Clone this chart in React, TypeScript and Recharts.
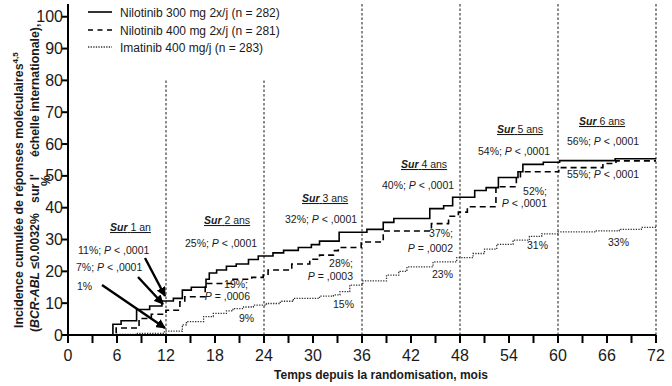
import React from 'react';
import { ComposedChart, Line, XAxis, YAxis, ReferenceLine } from 'recharts';

// Nilotinib 300 mg 2x/j (solid)
const nil300Months = [0, 5.5, 6.5, 8.4, 10, 11.5, 12.9, 14, 15.1, 16.9, 17.3, 18.2, 19.4, 20.6, 22.1, 23.3, 25.1, 26.4, 28.2, 29.8, 30.8, 33.2, 36.6, 38.6, 39.9, 44.3, 46.0, 47.1, 49.8, 51.2, 52.7, 55.1, 55.7, 58.2, 60.2, 67.0, 72];
const nil300Values = [0, 3.4, 4.5, 8.0, 9.1, 10.7, 11.5, 14.1, 15.0, 17.5, 19.5, 20.4, 21.6, 22.3, 23.7, 24.8, 25.8, 26.6, 27.5, 28.4, 29.5, 32.3, 33.2, 35.4, 36.6, 39.7, 40.6, 43.3, 45.4, 46.3, 49.5, 51.3, 53.6, 54.3, 54.8, 55.4, 55.4];

// Nilotinib 400 mg 2x/j (dashed)
const nil400Months = [0, 5.9, 8.7, 10.2, 12.0, 13.7, 14.3, 16.8, 20.2, 22.5, 23.9, 24.5, 27.4, 29.6, 30.8, 32.5, 33.1, 35.9, 38.6, 44.5, 46.6, 47.8, 48.9, 52.4, 54.9, 55.4, 60.1, 65.5, 67.1, 72];
const nil400Values = [0, 2.2, 5.2, 6.5, 7.8, 10.4, 12.0, 16.2, 17.5, 18.1, 18.8, 20.4, 22.3, 23.8, 25.1, 26.5, 27.5, 29.2, 32.7, 35.0, 37.3, 38.6, 40.3, 46.6, 49.3, 51.3, 52.6, 53.9, 54.7, 54.7];

// Imatinib 400 mg/j (dotted)
const imaMonths = [0, 6.0, 8.5, 11.8, 14.0, 14.5, 16.6, 17.8, 19.4, 20.2, 21.5, 22.7, 24.3, 26.0, 27.6, 30.8, 32.5, 33.3, 34.5, 36.1, 39.0, 40.5, 41.5, 44.7, 47.6, 49.6, 51.0, 52.5, 54.5, 56.5, 58.0, 60.0, 64.7, 67.5, 70.2, 72];
const imaValues = [0, 0.2, 0.5, 1.2, 3.2, 4.2, 5.8, 6.8, 7.6, 8.3, 8.8, 9.4, 9.9, 10.6, 11.5, 12.2, 12.6, 13.6, 15.7, 17.0, 18.8, 20.0, 21.4, 23.0, 24.3, 25.6, 27.0, 28.5, 29.8, 31.0, 31.8, 32.4, 32.7, 33.2, 33.8, 34.0];

const xTicks = [0, 3, 6, 9, 12, 15, 18, 21, 24, 27, 30, 33, 36, 39, 42, 45, 48, 51, 54, 57, 60, 63, 66, 69, 72];
const yTicks = [0, 10, 20, 30, 40, 50, 60, 70, 80, 90, 100];
const shortCutoffs = [12, 24];
const tallCutoffs = [36, 48, 60, 72];

const legendLabels = [
  'Nilotinib 300 mg 2x/j (n = 282)',
  'Nilotinib 400 mg 2x/j (n = 281)',
  'Imatinib 400 mg/j (n = 283)',
];

const zip = (ms: number[], vs: number[]) => ms.map((m, i) => ({ m, v: vs[i] }));
const nil300 = zip(nil300Months, nil300Values);
const nil400 = zip(nil400Months, nil400Values);
const ima = zip(imaMonths, imaValues);

const FONT = '"Liberation Sans", Arial, sans-serif';
const INK = '#1a1a1a';

const XTick = (props: any) => {
  const { x, y, payload } = props;
  if (payload.value % 6 !== 0) return <g />;
  return (
    <text x={x} y={y} dy={16} textAnchor="middle" fontSize={16} fontFamily={FONT} fill={INK}>
      {payload.value}
    </text>
  );
};

const YTick = (props: any) => {
  const { x, y, payload } = props;
  return (
    <text x={x + 3} y={y} dy={5.5} textAnchor="end" fontSize={16} fontFamily={FONT} fill={INK}>
      {payload.value}
    </text>
  );
};

const Sur = ({ x, y, n }: { x: number; y: number; n: string }) => (
  <text x={x} y={y} fontSize={10.5} fontFamily={FONT} fill={INK} style={{ textDecoration: 'underline' }}>
    <tspan fontWeight="bold" fontStyle="italic">Sur</tspan>
    <tspan> {n}</tspan>
  </text>
);

const PText = ({ x, y, pre, post, anchor = 'start' }: { x: number; y: number; pre: string; post: string; anchor?: string }) => (
  <text x={x} y={y} fontSize={10.5} fontFamily={FONT} fill={INK} textAnchor={anchor}>
    {pre}
    <tspan fontStyle="italic">P</tspan>
    {post}
  </text>
);

const Plain = ({ x, y, t, anchor = 'start' }: { x: number; y: number; t: string; anchor?: string }) => (
  <text x={x} y={y} fontSize={10.5} fontFamily={FONT} fill={INK} textAnchor={anchor}>
    {t}
  </text>
);

export default function App() {
  return (
    <div style={{ position: 'absolute', left: 0, top: 0, width: 672, height: 386, background: '#fff' }}>
      <ComposedChart width={672} height={386} margin={{ top: 4, right: 16, bottom: 21, left: 28 }}>
        <XAxis
          dataKey="m"
          type="number"
          domain={[0, 72]}
          ticks={xTicks}
          interval={0}
          height={30}
          axisLine={{ stroke: '#000', strokeWidth: 2 }}
          tickLine={{ stroke: '#000', strokeWidth: 2 }}
          tickSize={8}
          tick={<XTick />}
        />
        <YAxis
          type="number"
          domain={[0, 104]}
          ticks={yTicks}
          interval={0}
          width={40}
          axisLine={{ stroke: '#000', strokeWidth: 2 }}
          tickLine={{ stroke: '#000', strokeWidth: 2 }}
          tickSize={6}
          tick={<YTick />}
        />
        {shortCutoffs.map((c) => (
          <ReferenceLine key={c} segment={[{ x: c, y: 0 }, { x: c, y: 80 }]} stroke="#666" strokeWidth={1.5} strokeDasharray="2.5 2" />
        ))}
        {tallCutoffs.map((c) => (
          <ReferenceLine key={c} segment={[{ x: c, y: 0 }, { x: c, y: 104 }]} stroke="#666" strokeWidth={1.5} strokeDasharray="2.5 2" />
        ))}
        <Line data={ima} dataKey="v" type="stepAfter" stroke="#333" strokeWidth={1.3} strokeDasharray="1.3 1.3" dot={false} isAnimationActive={false} />
        <Line data={nil400} dataKey="v" type="stepAfter" stroke="#000" strokeWidth={1.6} strokeDasharray="6 4" dot={false} isAnimationActive={false} />
        <Line data={nil300} dataKey="v" type="stepAfter" stroke="#000" strokeWidth={1.6} dot={false} isAnimationActive={false} />
      </ComposedChart>

      <svg width={672} height={386} style={{ position: 'absolute', left: 0, top: 0, pointerEvents: 'none' }}>
        <defs>
          <marker id="arrowHead" viewBox="0 0 10 10" refX="9" refY="5" markerWidth="4" markerHeight="4" orient="auto">
            <path d="M0,0 L10,5 L0,10 z" fill="#000" />
          </marker>
        </defs>

        {/* legend */}
        <line x1={88} y1={12} x2={112} y2={12} stroke="#000" strokeWidth={1.6} />
        <line x1={88} y1={30} x2={112} y2={30} stroke="#000" strokeWidth={1.6} strokeDasharray="5 4.5" />
        <line x1={88} y1={47} x2={112} y2={47} stroke="#333" strokeWidth={1.3} strokeDasharray="1.3 1.3" />
        {legendLabels.map((l, i) => (
          <text key={l} x={120} y={16.5 + [0, 18, 35][i]} fontSize={12} fontFamily={FONT} fill={INK}>
            {l}
          </text>
        ))}

        {/* y axis title */}
        <text transform="translate(23,328) rotate(-90)" fontSize={12.3} fontWeight="bold" fontFamily={FONT} fill={INK}>
          Incidence cumulée de réponses moléculaires
          <tspan fontSize={8} dy={-5}>4,5</tspan>
        </text>
        <text transform="translate(39,332) rotate(-90)" fontSize={12.3} fontWeight="bold" fontFamily={FONT} fill={INK} style={{ whiteSpace: 'pre' }}>
          (<tspan fontStyle="italic">BCR-ABL</tspan> ≤0.0032%   sur l'     échelle internationale),
        </text>
        <text transform="translate(50,186) rotate(-90)" fontSize={12.3} fontWeight="bold" fontFamily={FONT} fill={INK}>
          %
        </text>

        {/* x axis title */}
        <text x={381} y={379} textAnchor="middle" fontSize={12} fontWeight="bold" fontFamily={FONT} fill={INK}>
          Temps depuis la randomisation, mois
        </text>

        {/* year 1 */}
        <Sur x={110} y={231} n="1 an" />
        <PText x={78} y={254} pre="11%; " post=" < ,0001" />
        <PText x={76} y={271} pre="7%; " post=" < ,0001" />
        <Plain x={77} y={290} t="1%" />
        <line x1={145} y1={258} x2={165} y2={296} stroke="#000" strokeWidth={2.4} markerEnd="url(#arrowHead)" />
        <line x1={138} y1={277} x2={163} y2={304} stroke="#000" strokeWidth={2.4} markerEnd="url(#arrowHead)" />
        <line x1={102} y1={285} x2={165} y2={328} stroke="#000" strokeWidth={2.4} markerEnd="url(#arrowHead)" />

        {/* year 2 */}
        <Sur x={204} y={224} n="2 ans" />
        <PText x={185} y={247} pre="25%; " post=" < ,0001" />
        <Plain x={248} y={288} t="19%;" anchor="end" />
        <PText x={250} y={300} pre="" post=" = ,0006" anchor="end" />
        <Plain x={239} y={322} t="9%" />

        {/* year 3 */}
        <Sur x={302} y={202} n="3 ans" />
        <PText x={285} y={223} pre="32%; " post=" < ,0001" />
        <Plain x={353} y={267} t="28%;" anchor="end" />
        <PText x={353} y={280} pre="" post=" = ,0003" anchor="end" />
        <Plain x={333} y={308} t="15%" />

        {/* year 4 */}
        <Sur x={401} y={168} n="4 ans" />
        <PText x={382} y={189} pre="40%; " post=" < ,0001" />
        <Plain x={453} y={237} t="37%;" anchor="end" />
        <PText x={453} y={252} pre="" post=" = ,0002" anchor="end" />
        <Plain x={432} y={278} t="23%" />

        {/* year 5 */}
        <Sur x={497} y={133} n="5 ans" />
        <PText x={478} y={155} pre="54%; " post=" < ,0001" />
        <Plain x={547} y={195} t="52%;" anchor="end" />
        <PText x={547} y={207} pre="" post=" < ,0001" anchor="end" />
        <Plain x={527} y={249} t="31%" />

        {/* year 6 */}
        <Sur x={579} y={125} n="6 ans" />
        <PText x={567} y={145} pre="56%; " post=" < ,0001" />
        <PText x={567} y={178} pre="55%; " post=" < ,0001" />
        <Plain x={608} y={246} t="33%" />
      </svg>
    </div>
  );
}
